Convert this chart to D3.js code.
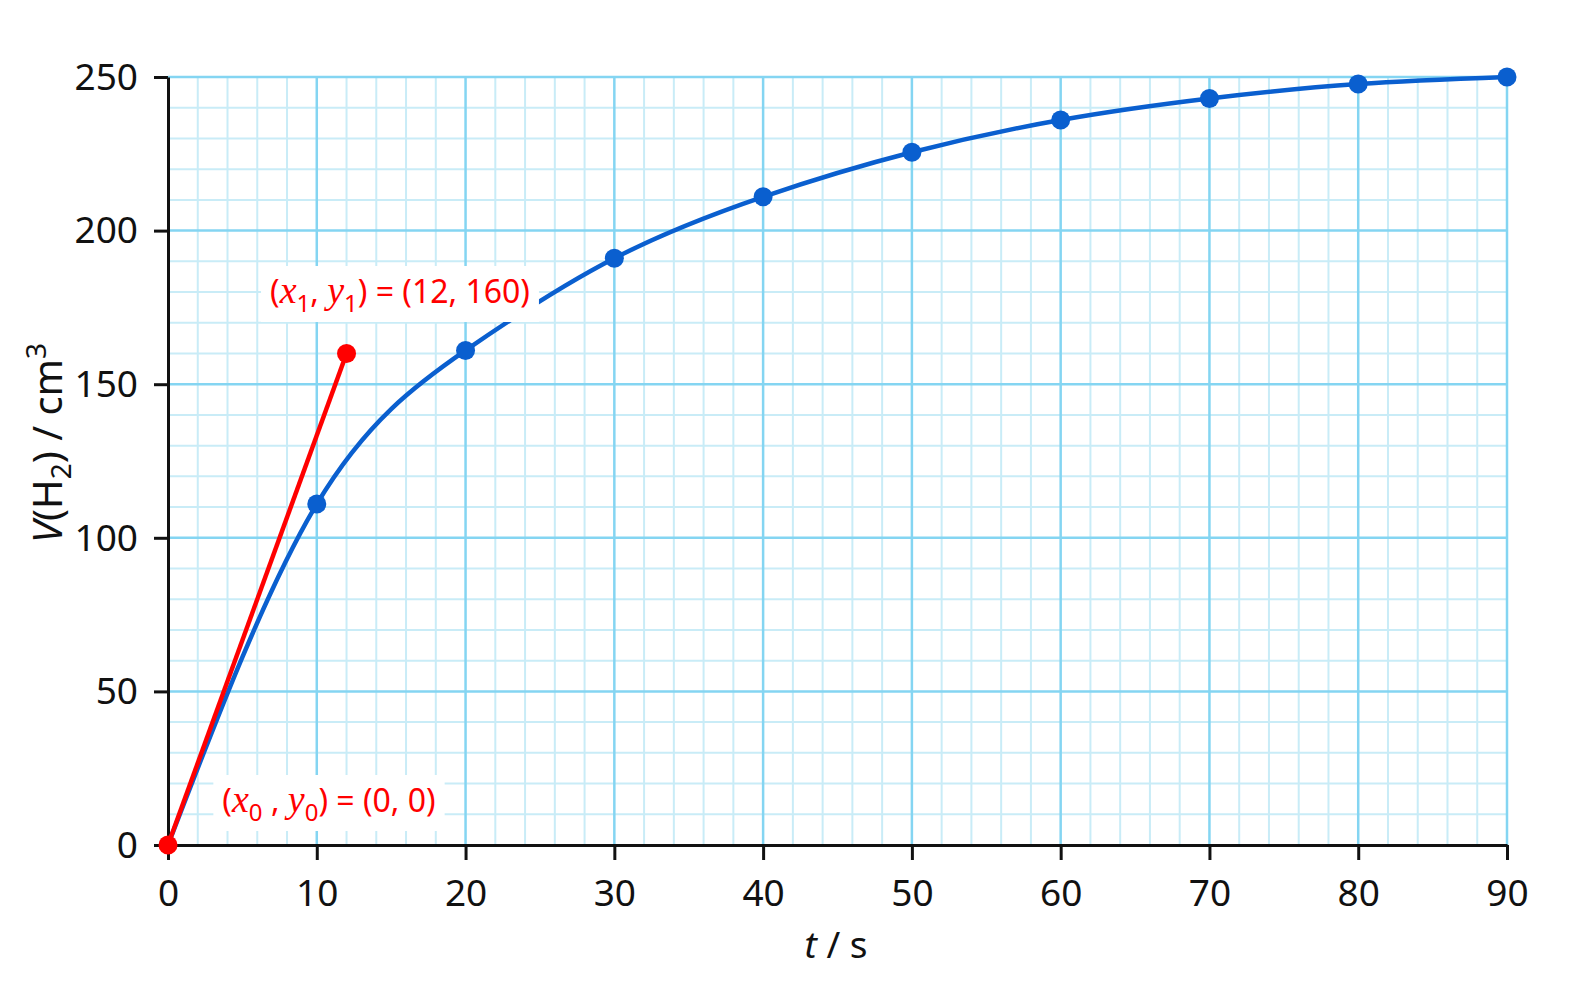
<!DOCTYPE html>
<html>
<head>
<meta charset="utf-8">
<script src="https://cdn.jsdelivr.net/npm/d3@7"></script>
<style>
  html, body { margin: 0; padding: 0; background: #fff; overflow: hidden; }
  svg { display: block; font-family: "Noto Sans", "Open Sans", sans-serif; }
</style>
</head>
<body>
<svg id="chart" width="1586" height="992"></svg>
<script>
const times = [0, 10, 20, 30, 40, 50, 60, 70, 80, 90];
const volumes = [0, 111, 161, 191, 211, 225.5, 236, 243, 247.7, 250];
const tangentT = [0, 12];
const tangentV = [0, 160];
const xTicks = [0, 10, 20, 30, 40, 50, 60, 70, 80, 90];
const yTicks = [0, 50, 100, 150, 200, 250];

const svg = d3.select("#chart");
const m = { left: 168, top: 77, right: 79, bottom: 147 };
const W = 1586 - m.left - m.right, H = 992 - m.top - m.bottom;
const g = svg.append("g").attr("transform", `translate(${m.left},${m.top})`);
const x = d3.scaleLinear().domain([0, 90]).range([0, W]);
const y = d3.scaleLinear().domain([0, 250]).range([H, 0]);

// minor grid
const minorX = d3.range(0, 91, 2).filter(v => v % 10 !== 0);
const minorY = d3.range(0, 251, 10).filter(v => v % 50 !== 0);
g.append("g").selectAll("line").data(minorX).join("line")
  .attr("x1", d => x(d)).attr("x2", d => x(d)).attr("y1", 0).attr("y2", H)
  .attr("stroke", "#c9ecf7").attr("stroke-width", 2);
g.append("g").selectAll("line").data(minorY).join("line")
  .attr("y1", d => y(d)).attr("y2", d => y(d)).attr("x1", 0).attr("x2", W)
  .attr("stroke", "#c9ecf7").attr("stroke-width", 2);
// major grid
g.append("g").selectAll("line").data(xTicks.filter(d => d > 0)).join("line")
  .attr("x1", d => x(d)).attr("x2", d => x(d)).attr("y1", 0).attr("y2", H)
  .attr("stroke", "#84d5f2").attr("stroke-width", 2.5);
g.append("g").selectAll("line").data(yTicks.filter(d => d > 0)).join("line")
  .attr("y1", d => y(d)).attr("y2", d => y(d)).attr("x1", 0).attr("x2", W)
  .attr("stroke", "#84d5f2").attr("stroke-width", 2.5);

// axes
const xAxis = g.append("g").attr("transform", `translate(0,${H})`)
  .call(d3.axisBottom(x).tickValues(xTicks).tickSize(15).tickSizeOuter(0));
const yAxis = g.append("g")
  .call(d3.axisLeft(y).tickValues(yTicks).tickSize(14).tickSizeOuter(0));
[xAxis, yAxis].forEach(a => {
  a.select(".domain").attr("stroke", "#111").attr("stroke-width", 3);
  a.selectAll(".tick line").attr("stroke", "#111").attr("stroke-width", 3);
  a.selectAll(".tick text").attr("fill", "#111").attr("font-size", 37)
    .attr("font-family", "Noto Sans, Open Sans, sans-serif");
});
xAxis.selectAll(".tick text").attr("y", 61).attr("dy", 0);
yAxis.selectAll(".tick text").attr("x", -30).attr("dy", "0.33em");

// curve
const pts = times.map((t, i) => [t, volumes[i]]);
g.append("path").datum(pts)
  .attr("d", d3.line().x(d => x(d[0])).y(d => y(d[1])).curve(d3.curveNatural))
  .attr("fill", "none").attr("stroke", "#0a5fcf").attr("stroke-width", 4.5);
g.append("g").selectAll("circle").data(pts.slice(1)).join("circle")
  .attr("cx", d => x(d[0])).attr("cy", d => y(d[1])).attr("r", 9.5)
  .attr("fill", "#0a5fcf");

// tangent
const tan = tangentT.map((t, i) => [t, tangentV[i]]);
g.append("path").datum(tan)
  .attr("d", d3.line().x(d => x(d[0])).y(d => y(d[1])))
  .attr("stroke", "#f00").attr("stroke-width", 4.5).attr("fill", "none");
g.append("g").selectAll("circle").data(tan).join("circle")
  .attr("cx", d => x(d[0])).attr("cy", d => y(d[1])).attr("r", 9.5)
  .attr("fill", "#f00");

// annotation labels
function label(cx, cy, sub, val, gap) {
  const t = svg.append("text").attr("x", cx).attr("y", cy)
    .attr("fill", "#f00").attr("font-size", 32).attr("text-anchor", "middle")
    .attr("font-family", "Noto Sans, Open Sans, sans-serif");
  t.append("tspan").text("(");
  t.append("tspan").attr("font-style", "italic").attr("font-family", "Liberation Serif, DejaVu Serif, serif")
    .attr("font-size", 38).text("x");
  t.append("tspan").attr("font-size", 24).attr("dy", 9).text(sub);
  t.append("tspan").attr("dy", -9).text(gap + ", ");
  t.append("tspan").attr("font-style", "italic").attr("font-family", "Liberation Serif, DejaVu Serif, serif")
    .attr("font-size", 38).text("y");
  t.append("tspan").attr("font-size", 24).attr("dy", 9).text(sub);
  t.append("tspan").attr("dy", -9).text(") = " + val);
  const bb = t.node().getBBox();
  svg.insert("rect", () => t.node())
    .attr("x", bb.x - 9).attr("y", bb.y - 3).attr("width", bb.width + 18).attr("height", bb.height + 6)
    .attr("fill", "#fff");
}
label(400, 303, "1", "(12, 160)", "");
label(329, 812, "0", "(0, 0)", " ");

// axis titles
const xt = svg.append("text").attr("x", 836).attr("y", 958).attr("text-anchor", "middle")
  .attr("font-size", 37).attr("fill", "#111");
xt.append("tspan").attr("font-style", "italic").text("t");
xt.append("tspan").text(" / s");

const yt = svg.append("text").attr("transform", "translate(62,443) rotate(-90)")
  .attr("text-anchor", "middle").attr("font-size", 40).attr("fill", "#111");
yt.append("tspan").attr("font-style", "italic").text("V");
yt.append("tspan").text("(H");
yt.append("tspan").attr("font-size", 28).attr("dy", 9).text("2");
yt.append("tspan").attr("dy", -9).text(") / cm");
yt.append("tspan").attr("font-size", 28).attr("dy", -16).text("3");
</script>
</body>
</html>
